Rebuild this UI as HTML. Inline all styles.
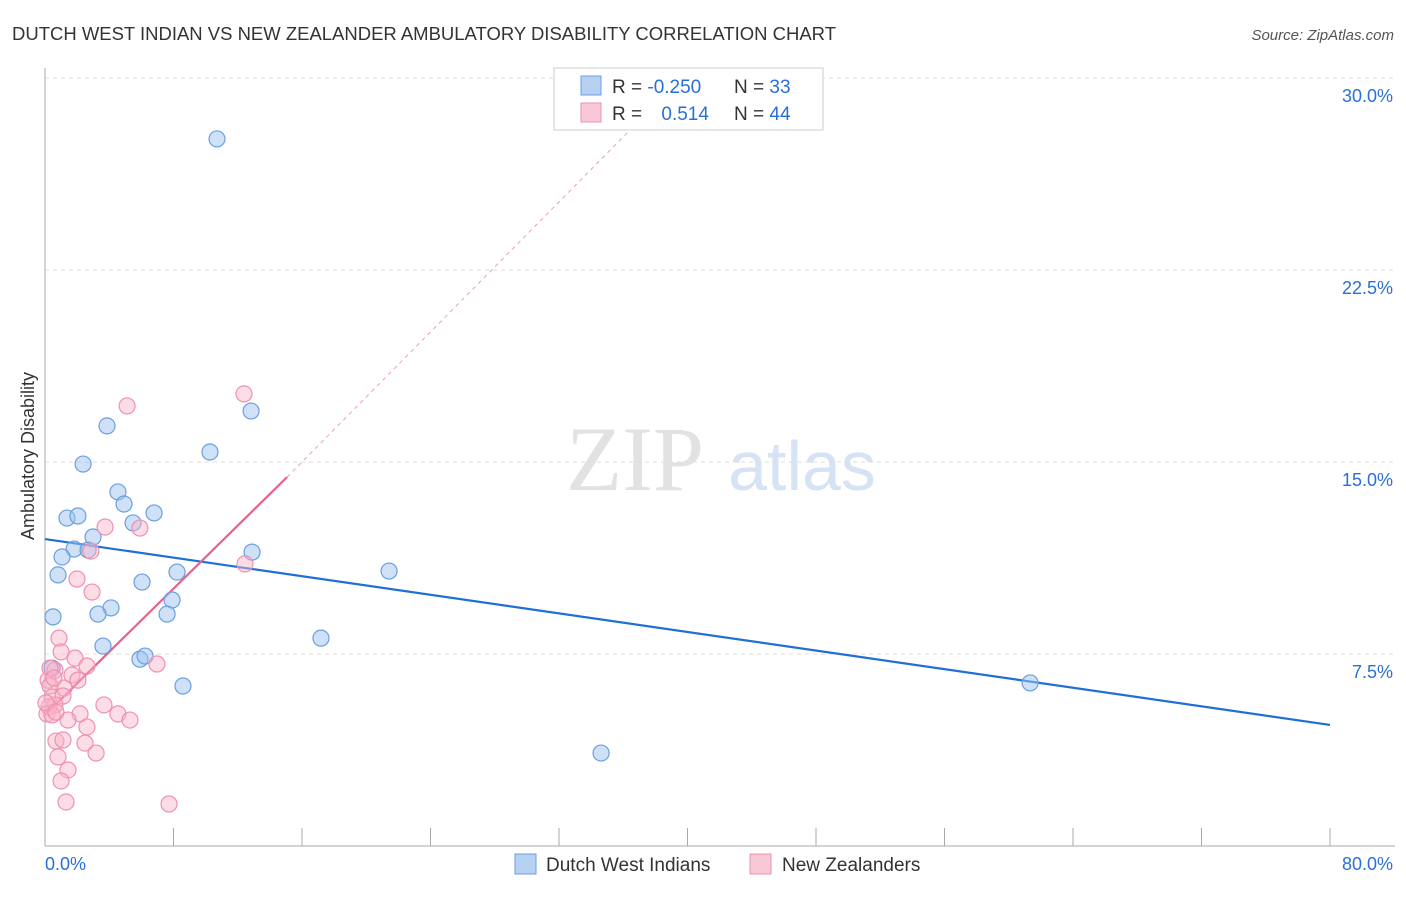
<!DOCTYPE html>
<html><head><meta charset="utf-8"><style>
body{margin:0;background:#fff;font-family:"Liberation Sans",sans-serif}
</style></head><body>
<svg width="1406" height="892" viewBox="0 0 1406 892" xmlns="http://www.w3.org/2000/svg" font-family="Liberation Sans, sans-serif">
<text x="12" y="40" font-size="18" fill="#333" textLength="824" lengthAdjust="spacingAndGlyphs">DUTCH WEST INDIAN VS NEW ZEALANDER AMBULATORY DISABILITY CORRELATION CHART</text>
<text x="1394" y="40" font-size="15" fill="#555" font-style="italic" text-anchor="end">Source: ZipAtlas.com</text>
<g>
<text x="635" y="490" font-size="92" fill="#e2e2e2" font-family="Liberation Serif, serif" text-anchor="middle">ZIP</text>
<text x="802" y="490" font-size="70" fill="#d6e3f5" text-anchor="middle">atlas</text>
</g>
<g id="grid"></g>
<g id="axes"></g>
<text transform="translate(34,456) rotate(-90)" font-size="18" fill="#333" text-anchor="middle">Ambulatory Disability</text>
<g id="trends"></g>
<g id="points"></g>
<g>
<rect x="554" y="68" width="269" height="62" fill="#fff" stroke="#ccc"/>
<rect x="581" y="76" width="20" height="19" fill="#b7d1f3" stroke="#6a9fe0"/>
<text x="612" y="93" font-size="19" fill="#333">R = <tspan fill="#2a6fd6">-0.250</tspan></text>
<text x="734" y="93" font-size="19" fill="#333">N = <tspan fill="#2a6fd6">33</tspan></text>
<rect x="581" y="103" width="20" height="19" fill="#f9c8d6" stroke="#f090b0"/>
<text x="612" y="120" font-size="19" fill="#333">R = <tspan fill="#2a6fd6" dx="14">0.514</tspan></text>
<text x="734" y="120" font-size="19" fill="#333">N = <tspan fill="#2a6fd6">44</tspan></text>
</g>
<g>
<rect x="515" y="854" width="21" height="20" fill="#b7d1f3" stroke="#6a9fe0"/>
<text x="546" y="871" font-size="19" fill="#333">Dutch West Indians</text>
<rect x="750" y="854" width="21" height="20" fill="#f9c8d6" stroke="#f090b0"/>
<text x="782" y="871" font-size="19" fill="#333">New Zealanders</text>
</g>
</svg>
<script>
const xTickLabels=["0.0%","80.0%"];
const yTicks=[7.5,15,22.5,30];
const yTickLabels=["7.5%","15.0%","22.5%","30.0%"];
const blueX=[10.71,3.86,12.83,2.37,10.27,4.54,4.92,1.37,2.05,6.79,5.48,2.99,1.81,1.06,2.68,0.81,6.04,8.22,21.42,12.89,7.91,0.50,4.11,3.30,7.60,3.61,17.18,5.91,6.23,8.59,61.33,34.62,0.44];
const blueY=[27.62,16.41,16.99,14.92,15.39,13.83,13.36,12.81,12.89,13.01,12.62,12.07,11.60,11.29,11.56,10.59,10.31,10.70,10.74,11.48,9.61,8.95,9.30,9.06,9.06,7.81,8.12,7.30,7.42,6.25,6.37,3.63,6.95];
const pinkX=[12.39,5.11,3.74,5.91,2.86,12.45,1.99,2.93,0.87,1.00,1.87,2.61,6.97,0.62,1.68,0.19,1.18,2.05,0.31,0.44,1.12,0.62,3.67,4.54,5.29,2.18,1.43,0.25,0.12,0.68,1.12,2.61,2.49,3.18,0.81,1.43,1.00,1.31,7.72,0.44,0.06,0.68,0.31,0.56];
const pinkY=[17.66,17.19,12.46,12.42,11.52,11.02,10.43,9.92,8.12,7.58,7.34,7.03,7.11,6.87,6.68,6.48,6.17,6.48,6.25,5.82,5.86,5.51,5.51,5.16,4.92,5.16,4.92,5.43,5.16,4.10,4.14,4.65,4.02,3.63,3.48,2.97,2.54,1.72,1.64,5.12,5.59,5.23,6.95,6.56];
const blueTrend=[0,11.99,80,4.73];
const pinkTrend=[0,5.12,15.07,14.41];
const pinkTrendExt=[15.07,14.41,37.04,28.36];

const NS="http://www.w3.org/2000/svg";
const X0=45,X1=1330,Y0=846,YPER=192/7.5;
const sx=v=>X0+v/80*(X1-X0);
const sy=v=>Y0-v*YPER;
function mk(tag,attrs,parent){const e=document.createElementNS(NS,tag);for(const k in attrs)e.setAttribute(k,attrs[k]);parent.appendChild(e);return e;}
const grid=document.getElementById('grid'),axes=document.getElementById('axes'),trends=document.getElementById('trends'),pts=document.getElementById('points');
yTicks.forEach((t,i)=>{
 const l=mk('line',{x1:X0,x2:1395,y1:sy(t),y2:sy(t),stroke:'#ddd','stroke-dasharray':'4,4'},grid);
 
 
 const tx=mk('text',{x:1393,y:sy(t)+24,'font-size':18,fill:'#2a6fd6','text-anchor':'end'},axes);
 tx.textContent=yTickLabels[i];
 
 
});
const ya=mk('line',{x1:X0,x2:X0,y1:68,y2:Y0,stroke:'#aaa'},axes);


const xa=mk('line',{x1:X0,x2:1395,y1:Y0,y2:Y0,stroke:'#aaa'},axes);


for(let i=1;i<=10;i++){
 const t=mk('line',{x1:sx(i*8),x2:sx(i*8),y1:828,y2:Y0,stroke:'#aaa'},axes);
 
 
}
[[0,'start',45],[80,'end',1393]].forEach((a,i)=>{
 const tx=mk('text',{x:a[2],y:870,'font-size':18,fill:'#2a6fd6','text-anchor':a[1]},axes);
 tx.textContent=xTickLabels[i];
 
 
});
function line(tr,color,w,dash,name){
 const l=mk('line',{x1:sx(tr[0]),y1:sy(tr[1]),x2:sx(tr[2]),y2:sy(tr[3]),stroke:color,'stroke-width':w},trends);
 if(dash)l.setAttribute('stroke-dasharray',dash);
 
 
}
line(pinkTrendExt,'#e8a0b8',1,'4,4','pink-trend-extension');
line(blueTrend,'#1f6fd6',2.2,null,'blue-trend-line');
line(pinkTrend,'#e8608a',2.2,null,'pink-trend-line');
blueX.forEach((v,i)=>{
 const c=mk('circle',{cx:sx(v),cy:sy(blueY[i]),r:8,fill:'rgba(160,196,240,0.5)',stroke:'#6a9fe0','stroke-width':1.2},pts);
 
 
});
pinkX.forEach((v,i)=>{
 const c=mk('circle',{cx:sx(v),cy:sy(pinkY[i]),r:8,fill:'rgba(248,180,200,0.45)',stroke:'#f090b0','stroke-width':1.2},pts);
 
 
});
</script>
</body></html>
